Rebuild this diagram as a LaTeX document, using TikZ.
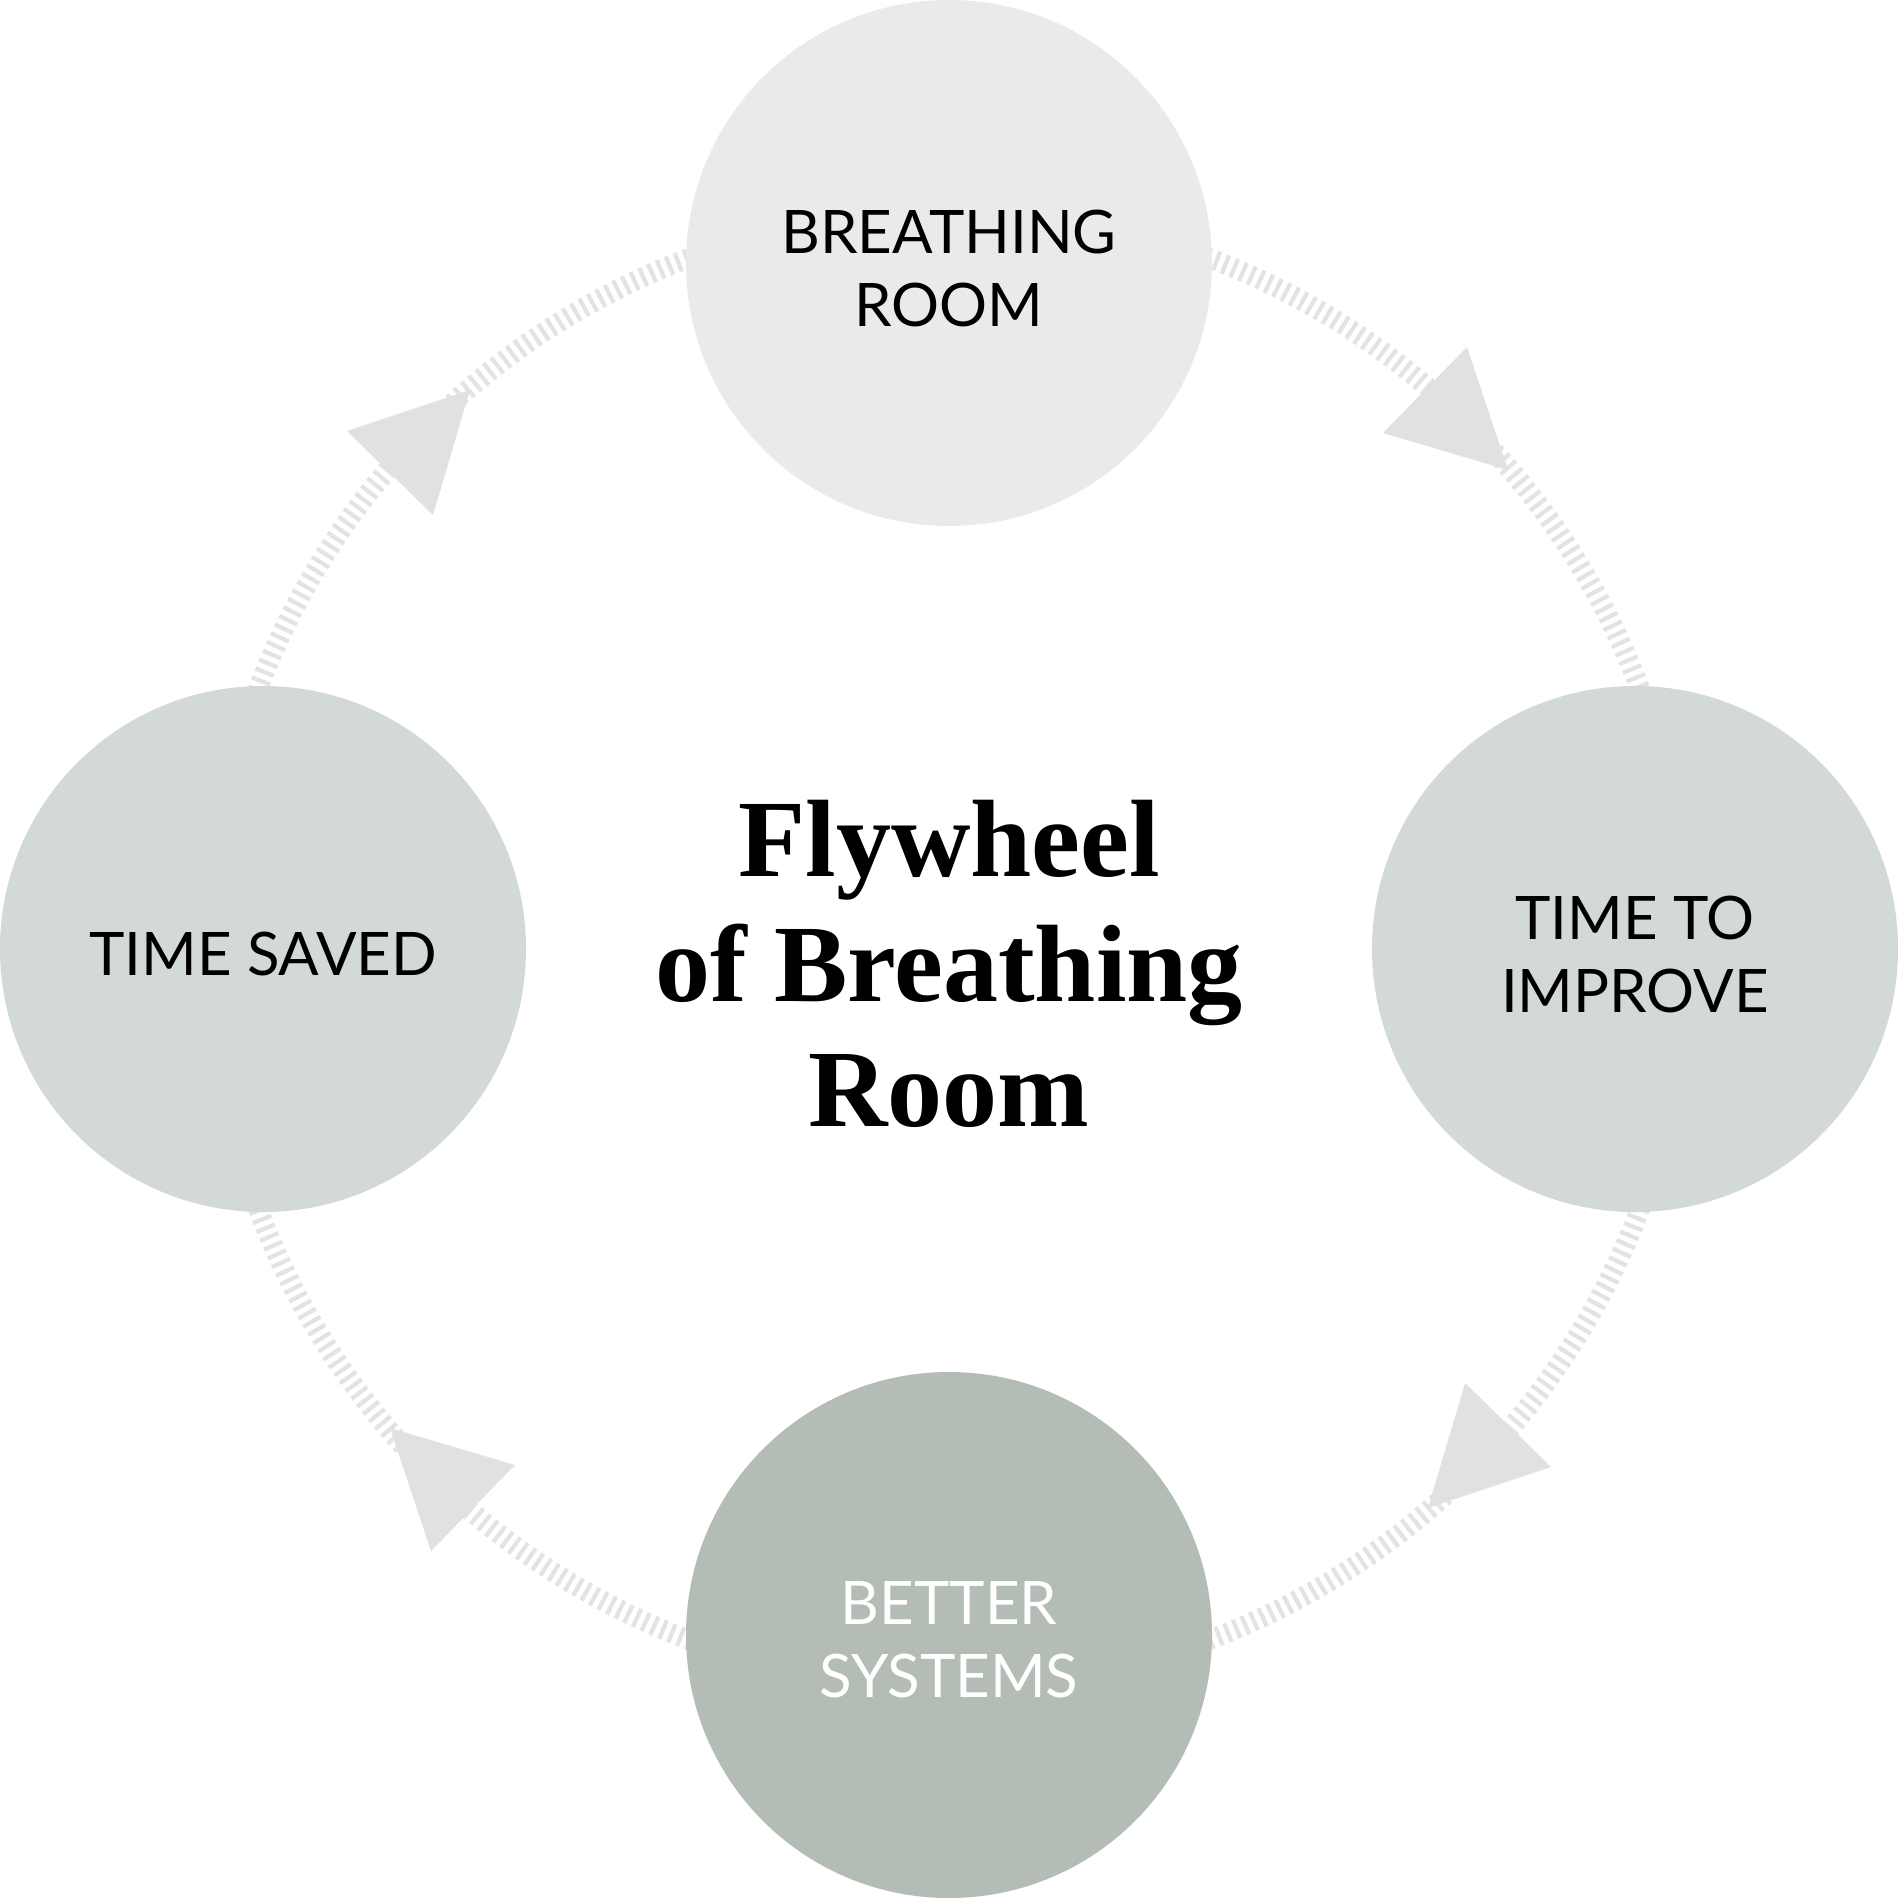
\documentclass[tikz,border=0pt]{standalone}
\usepackage{fontspec}
\newfontfamily\labelfont{Lato}
\newfontfamily\titlefont{Liberation Serif}
\definecolor{topfill}{RGB}{233,235,234}
\definecolor{sidefill}{RGB}{211,217,213}
\definecolor{bottomfill}{RGB}{179,188,181}
\definecolor{ringgray}{RGB}{227,227,227}
\definecolor{arrowgray}{RGB}{225,225,225}
\begin{document}
\begin{tikzpicture}[x=0.5pt,y=-0.5pt,
  stage/.style={circle, minimum size=263pt, inner sep=0pt},
  stagetext/.style={align=center, inner sep=0pt,
    font=\labelfont\fontsize{30}{36.5}\selectfont, text=black},
  ringline/.style={draw=ringgray, line width=10pt, dash pattern=on 2.1pt off 2.65pt},
  arrowhead/.style={fill=arrowgray},
  titletext/.style={align=center, inner sep=0pt,
    font=\titlefont\bfseries\fontsize{55}{62.5}\selectfont}]
\useasboundingbox (0,0) rectangle (1898,1898);
\fill[white] (0,0) rectangle (1898,1898);
\coordinate (c) at (949,949);
\draw[ringline] (c) circle[radius=369pt];
% arrowheads
\fill[arrowhead] (1508,470) -- (1467,347) -- (1383,433) -- cycle;
\fill[arrowhead] (470,390) -- (347,431) -- (433,515) -- cycle;
\fill[arrowhead] (390,1428) -- (431,1551) -- (515,1465) -- cycle;
\fill[arrowhead] (1428,1508) -- (1551,1467) -- (1465,1383) -- cycle;
% stages
\node[stage, fill=topfill] (breathing) at (949,263) {};
\node[stage, fill=sidefill] (improve) at (1635,949) {};
\node[stage, fill=bottomfill] (systems) at (949,1635) {};
\node[stage, fill=sidefill] (saved) at (263,949) {};
\node[stagetext] (breathingtext) at ([yshift=-2.5pt]breathing.center) {BREATHING\\ROOM};
\node[stagetext] (improvetext) at ([yshift=-2.5pt]improve.center) {TIME TO\\IMPROVE};
\node[stagetext, text=white] (systemstext) at ([yshift=-2.5pt]systems.center) {BETTER\\SYSTEMS};
\node[stagetext] (savedtext) at ([yshift=-2.5pt]saved.center) {TIME SAVED};
% title
\node[titletext] (title) at (c) [yshift=-7.5pt] {Flywheel\\of Breathing\\Room};
\end{tikzpicture}
\end{document}
